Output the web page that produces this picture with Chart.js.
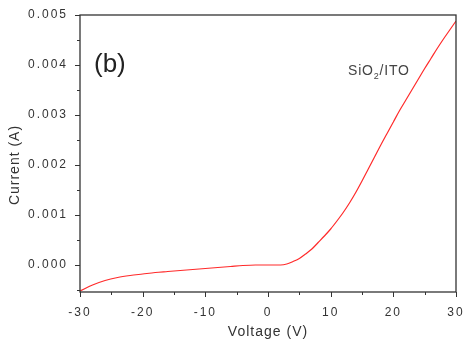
<!DOCTYPE html>
<html>
<head>
<meta charset="utf-8">
<script src="https://cdn.jsdelivr.net/npm/chart.js@4.4.1/dist/chart.umd.min.js"></script>
<style>
  html, body { margin: 0; padding: 0; background: #fff; }
  #wrap { width: 463px; height: 341px; }
</style>
</head>
<body>
<div id="wrap"><canvas id="ivChart" width="463" height="341"></canvas></div>
<script>
// voltage (V) and current (A)
const voltage = [-30, -28, -26, -24, -22, -20, -18, -16, -14, -12, -10, -8, -6, -4, -2, 0, 2, 3, 4, 5, 6, 7, 8, 9, 10, 11, 12, 13, 14, 15, 16, 17, 18, 19, 20, 21, 22, 23, 24, 25, 26, 27, 28, 29, 30];
const current = [-0.00052, -0.00040, -0.00031, -0.00025, -0.00021, -0.00018, -0.00015, -0.00013, -0.00011, -0.00009, -0.00007, -0.00005, -0.00003, -0.00001, 0.0, 0.0, 0.0, 0.00002, 0.00007, 0.00013, 0.00022, 0.00032, 0.00045, 0.00058, 0.00072, 0.00088, 0.00105, 0.00124, 0.00145, 0.00168, 0.00192, 0.00216, 0.00240, 0.00263, 0.00286, 0.00309, 0.00330, 0.00351, 0.00372, 0.00393, 0.00413, 0.00433, 0.00452, 0.00470, 0.00488];

const xTicks = [-30, -20, -10, 0, 10, 20, 30];
const xMinorTicks = [-25, -15, -5, 5, 15, 25];
const yTicks = [0.000, 0.001, 0.002, 0.003, 0.004, 0.005];
const yMinorTicks = [-0.0005, 0.0005, 0.0015, 0.0025, 0.0035, 0.0045];

const xTitle = "Voltage (V)";
const yTitle = "Current (A)";
const panelLabel = "(b)";

const axisColor = "#333";
const fontFam = "'Liberation Sans', Arial, sans-serif";

// frame, minor/major tick marks, axis titles and the labels in the plot
const framePlugin = {
  id: "frame",
  beforeDraw(chart) {
    chart.ctx.letterSpacing = "2px";
  },
  afterDraw(chart) {
    const { ctx, chartArea: a, scales } = chart;
    ctx.save();
    ctx.strokeStyle = axisColor;
    ctx.lineWidth = 1.3;
    ctx.strokeRect(a.left, a.top, a.right - a.left, a.bottom - a.top);
    ctx.lineWidth = 1;
    ctx.beginPath();
    xTicks.forEach((v) => {
      const px = Math.round(scales.x.getPixelForValue(v)) + 0.5;
      ctx.moveTo(px, a.bottom);
      ctx.lineTo(px, a.bottom + 5);
    });
    xMinorTicks.forEach((v) => {
      const px = Math.round(scales.x.getPixelForValue(v)) + 0.5;
      ctx.moveTo(px, a.bottom);
      ctx.lineTo(px, a.bottom + 3);
    });
    yTicks.forEach((v) => {
      const py = Math.round(scales.y.getPixelForValue(v)) + 0.5;
      ctx.moveTo(a.left, py);
      ctx.lineTo(a.left - 5, py);
    });
    yMinorTicks.forEach((v) => {
      const py = Math.round(scales.y.getPixelForValue(v)) + 0.5;
      ctx.moveTo(a.left, py);
      ctx.lineTo(a.left - 3, py);
    });
    ctx.stroke();

    // axis titles
    ctx.fillStyle = axisColor;
    ctx.font = "14px " + fontFam;
    ctx.letterSpacing = "1px";
    ctx.textAlign = "center";
    ctx.textBaseline = "middle";
    ctx.fillText(xTitle, (a.left + a.right) / 2, 332);
    ctx.save();
    ctx.translate(15, 165);
    ctx.rotate(-Math.PI / 2);
    ctx.fillText(yTitle, 0, 0);
    ctx.restore();

    // panel label and sample label
    ctx.textAlign = "left";
    ctx.textBaseline = "alphabetic";
    ctx.letterSpacing = "0px";
    ctx.fillStyle = "#222";
    ctx.font = "26px " + fontFam;
    ctx.fillText(panelLabel, 94, 72);

    ctx.fillStyle = "#444";
    ctx.font = "14px " + fontFam;
    ctx.letterSpacing = "0.8px";
    let x = 348;
    ctx.fillText("SiO", x, 75);
    x += ctx.measureText("SiO").width;
    ctx.font = "9px " + fontFam;
    ctx.fillText("2", x, 79);
    x += ctx.measureText("2").width;
    ctx.font = "14px " + fontFam;
    ctx.fillText("/ITO", x, 75);
    ctx.restore();
  },
};

const ctx = document.getElementById("ivChart").getContext("2d");
const chart = new Chart(ctx, {
  type: "line",
  data: {
    datasets: [
      {
        data: voltage.map((v, i) => ({ x: v, y: current[i] })),
        borderColor: "#ff2a2a",
        borderWidth: 1.2,
        pointRadius: 0,
        cubicInterpolationMode: "monotone",
        fill: false,
      },
    ],
  },
  options: {
    responsive: false,
    animation: false,
    layout: { padding: { top: 15, right: 7, left: 0, bottom: 0 } },
    plugins: { legend: { display: false }, tooltip: { enabled: false } },
    scales: {
      x: {
        type: "linear",
        min: -30,
        max: 30,
        afterBuildTicks: (s) => { s.ticks = xTicks.map((v) => ({ value: v })); },
        afterFit: (s) => {
          s.height = 49;
          s.paddingLeft = 0;
          s.paddingRight = 0;
        },
        grid: { display: false },
        border: { display: false },
        ticks: {
          color: axisColor,
          font: { family: fontFam, size: 12 },
          padding: 5,
          maxRotation: 0,
        },
      },
      y: {
        min: -0.00054,
        max: 0.005,
        afterBuildTicks: (s) => { s.ticks = yTicks.map((v) => ({ value: v })); },
        afterFit: (s) => {
          s.width = 80;
          s.paddingTop = 0;
          s.paddingBottom = 0;
        },
        grid: { display: false },
        border: { display: false },
        ticks: {
          color: axisColor,
          font: { family: fontFam, size: 12 },
          padding: 4,
          callback: (v) => Number(v).toFixed(3),
        },
      },
    },
  },
  plugins: [framePlugin],
});
</script>
</body>
</html>
